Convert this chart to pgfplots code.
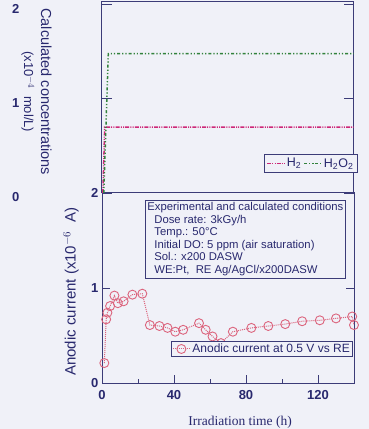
\documentclass[border=0pt]{standalone}
\usepackage{fontspec}
\setmainfont{Liberation Sans}
\newfontfamily\seriffont{Liberation Serif}
\usepackage{pgfplots}
\pgfplotsset{compat=1.18}
\definecolor{bg}{RGB}{240,241,248}
\definecolor{axc}{RGB}{60,60,120}
\definecolor{txt}{RGB}{40,40,110}
\definecolor{hh}{RGB}{205,40,120}
\definecolor{hho}{RGB}{50,130,60}
\definecolor{cur}{RGB}{220,100,125}
\begin{document}
\begin{tikzpicture}[x=1pt,y=1pt]
\fill[bg] (0,0) rectangle (369,429);
\useasboundingbox (0,0) rectangle (369,429);
\pgfplotsset{every axis/.append style={scale only axis, width=252pt, xmin=0, xmax=140,
  axis line style={axc, line width=1pt}, tick style={axc, line width=0.9pt}, tick align=inside,
  ticklabel style={font=\bfseries\fontsize{13}{13}\selectfont, text=txt},
  /pgf/number format/assume math mode=true,
  label style={text=txt}}}
% bottom panel
\begin{axis}[at={(102pt,46pt)}, anchor=south west, height=190pt,
  ymin=0, ymax=2, ytick={0,1,2}, xtick={0,40,80,120}, minor xtick={20,60,100,140},
  xtick pos=left, ytick pos=both, major tick length=8pt, minor tick length=4pt,
  xticklabel style={yshift=-4pt},
  ylabel={Anodic current (x10$^{-6}$\ \ A)},
  ylabel style={at={(axis description cs:-0.123,0.48)}, anchor=center, font=\fontsize{15}{15}\selectfont},
  xlabel={\seriffont Irradiation time (h)},
  xlabel style={at={(axis description cs:0.548,0)}, anchor=north, inner sep=0pt, yshift=-33pt, font=\fontsize{13.5}{13.5}\selectfont},
  legend style={at={(axis description cs:0.995,0.137)}, anchor=south east, draw=axc, line width=0.8pt, fill=bg,
    font=\fontsize{12}{12}\selectfont, text=txt, inner sep=0.5pt},
  legend cell align=left]
\addplot[cur, densely dotted, line width=1pt, mark=o, mark size=4.5pt, mark options={solid, fill=white, line width=0.9pt}]
coordinates {
(1.3,0.21) (2.3,0.67) (3,0.74) (4.5,0.81) (6.9,0.92) (8.8,0.84) (12,0.86) (16.9,0.93) (22.4,0.94)
(26.6,0.61) (31.9,0.60) (36.4,0.58) (40.7,0.54) (45.1,0.56) (53.9,0.63) (57.6,0.56) (61.4,0.49)
(66.1,0.42) (72.7,0.54) (83,0.58) (92.4,0.60) (101.8,0.62) (111.2,0.65) (121,0.66) (130,0.68)
(139,0.70) (140,0.61)};
\addlegendentry{Anodic current at 0.5 V vs RE}
\end{axis}
% top panel
\begin{axis}[at={(102pt,236pt)}, anchor=south west, height=191pt,
  ymin=0, ymax=2.03, ytick={0,1,2}, xtick=\empty, ytick pos=both, major tick length=10pt,
  yticklabel style={xshift=-79pt, yshift=-4pt},
  ylabel={Calculated concentrations\\{\fontsize{13}{17}\selectfont(x10$^{-4}$\ \ mol/L)}},
  ylabel style={at={(axis description cs:-0.26,0.53)}, anchor=center, rotate=180, align=center, font=\fontsize{14.5}{17}\selectfont},
  legend style={at={(axis description cs:1.015,0.105)}, anchor=south east, draw=axc, line width=0.8pt, fill=bg,
    font=\fontsize{12.5}{12.5}\selectfont, text=txt, inner sep=2pt},
  legend columns=2]
\addplot[hh, line width=1.5pt, dash pattern=on 4pt off 1.2pt on 1pt off 1.2pt on 1pt off 1.2pt] coordinates {(0.5,0) (1.5,0.70) (140,0.70)};
\addlegendentry{H\textsubscript{2}\quad}
\addplot[hho, line width=1.5pt, dash pattern=on 3pt off 2pt on 1.2pt off 2pt on 1.2pt off 2pt] coordinates {(1,0) (3.5,1.48) (140,1.48)};
\addlegendentry{H\textsubscript{2}O\textsubscript{2}}
\end{axis}
\node[draw=axc, line width=0.8pt, fill=bg, anchor=north west, align=left, text=txt,
  font=\fontsize{11.3}{12.6}\selectfont, inner sep=2pt] at (145,229)
 {Experimental and calculated conditions\\
  \hspace*{7pt}Dose rate: 3kGy/h\\
  \hspace*{7pt}Temp.: 50°C\\
  \hspace*{7pt}Initial DO: 5 ppm (air saturation)\\
  \hspace*{7pt}Sol.: x200 DASW\\
  \hspace*{7pt}WE:Pt,\ \ RE Ag/AgCl/x200DASW};
\end{tikzpicture}
\end{document}
